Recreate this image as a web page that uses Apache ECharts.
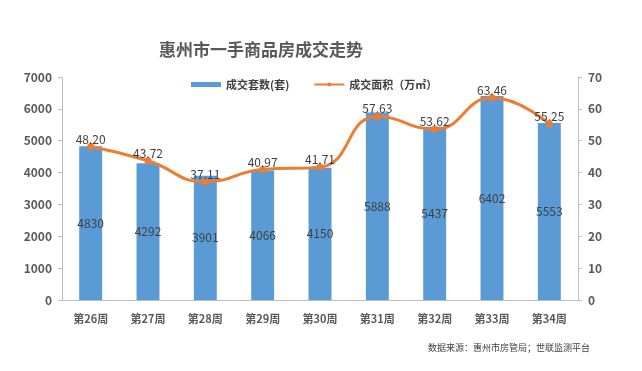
<!DOCTYPE html>
<html><head><meta charset="utf-8">
<script src="https://cdn.jsdelivr.net/npm/echarts@6/dist/echarts.min.js"></script>
<style>html,body{margin:0;padding:0;background:#fff}#c{width:642px;height:371px}</style>
</head><body><div id="c"></div>
<script>
const categories = ['第26周','第27周','第28周','第29周','第30周','第31周','第32周','第33周','第34周'];
const units = [4830, 4292, 3901, 4066, 4150, 5888, 5437, 6402, 5553];
const area = [48.20, 43.72, 37.11, 40.97, 41.71, 57.63, 53.62, 63.46, 55.25];
const leftTicks = [0, 1000, 7000];
const rightTicks = [0, 10, 70];

const chart = echarts.init(document.getElementById('c'));
const axisStyle = {lineStyle:{color:'#bfbfbf', width:1}};
chart.setOption({
  animation:false,
  textStyle:{fontFamily:'"Noto Sans CJK SC", sans-serif'},
  title:{text:'惠州市一手商品房成交走势', left:256, top:36, textAlign:'center',
    textStyle:{fontSize:17, fontWeight:'bold', color:'#595959'}},
  legend:{top:74, left:186, itemGap:24, itemWidth:30, itemHeight:5,
    textStyle:{fontSize:11, color:'#404040', fontWeight:'bold'},
    data:[{name:'成交套数(套)', icon:'rect'}, {name:'成交面积（万㎡）'}]},
  grid:{left:62, right:64, top:77, bottom:71},
  xAxis:{type:'category', data:categories, axisLine:axisStyle, axisTick:{show:false},
    axisLabel:{color:'#595959', fontSize:11, fontWeight:'bold', margin:13}},
  yAxis:[
    {type:'value', min:leftTicks[0], max:leftTicks[2], interval:leftTicks[1], splitLine:{show:false},
     axisLine:{show:true, ...axisStyle}, axisTick:{show:true, length:4, lineStyle:{color:'#bfbfbf'}},
     axisLabel:{color:'#595959', fontSize:12, fontWeight:'bold', margin:10, formatter:v=>String(v)}},
    {type:'value', min:rightTicks[0], max:rightTicks[2], interval:rightTicks[1], splitLine:{show:false},
     axisLine:{show:true, ...axisStyle}, axisTick:{show:true, length:4, lineStyle:{color:'#bfbfbf'}},
     axisLabel:{color:'#595959', fontSize:12, fontWeight:'bold', margin:10, formatter:v=>String(v)}}
  ],
  series:[
    {name:'成交套数(套)', type:'bar', data:units, barWidth:'40%', itemStyle:{color:'#5B9BD5'},
     label:{show:true, position:'inside', color:'#404040', fontSize:12}},
    {name:'成交面积（万㎡）', type:'line', yAxisIndex:1, data:area, smooth:true,
     symbol:'circle', symbolSize:7, lineStyle:{color:'#ED7D31', width:3}, itemStyle:{color:'#ED7D31'},
     label:{show:true, position:'top', distance:-2, color:'#404040', fontSize:12, formatter:p=>p.value.toFixed(2)}}
  ],
  graphic:[{type:'text', left:428, top:343, style:{text:'数据来源：惠州市房管局；世联监测平台', fontSize:9, fill:'#404040', fontFamily:'"Noto Sans CJK SC", sans-serif'}}]
});
</script></body></html>
